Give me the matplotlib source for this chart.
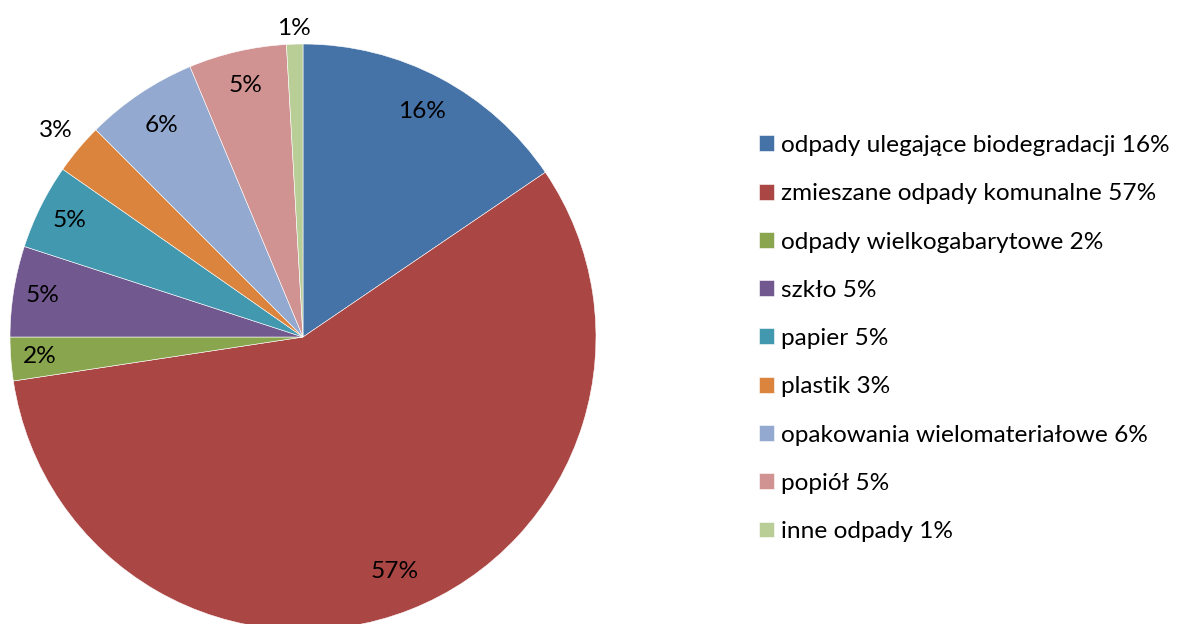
import numpy as np
import matplotlib
matplotlib.use("Agg")
import matplotlib.pyplot as plt

# shares of municipal waste (%)
categories = [
    "odpady ulegające biodegradacji",
    "zmieszane odpady komunalne",
    "odpady wielkogabarytowe",
    "szkło",
    "papier",
    "plastik",
    "opakowania wielomateriałowe",
    "popiół",
    "inne odpady",
]
values = [15.5, 57.1, 2.4, 5.0, 4.7, 2.8, 6.2, 5.4, 0.9]
pct_labels = ["16%", "57%", "2%", "5%", "5%", "3%", "6%", "5%", "1%"]

colors = ["#4572A7", "#AA4643", "#89A54E", "#71588F", "#4198AF",
          "#DB843D", "#93A9CF", "#D19392", "#B9CD96"]
# radial position of each percentage label (fraction of radius)
label_r = [0.87, 0.86, 0.90, 0.90, 0.89, 1.10, 0.87, 0.88, 1.055]

plt.rcParams['font.family'] = ['Lato', 'DejaVu Sans']
FS = 17.6

W, H = 1178, 624
fig = plt.figure(figsize=(W / 100, H / 100), dpi=100)
cx, cy, r = 303, 337, 293
ax = fig.add_axes([(cx - r) / W, (H - cy - r) / H, 2 * r / W, 2 * r / H])

wedges, _ = ax.pie(values, colors=colors, startangle=90, counterclock=False,
                   radius=1, wedgeprops=dict(edgecolor="white", linewidth=0.4))
ax.set_xlim(-1, 1)
ax.set_ylim(-1, 1)
ax.set_aspect("equal")
ax.axis("off")

for w, lab, d in zip(wedges, pct_labels, label_r):
    mid = np.deg2rad((w.theta1 + w.theta2) / 2)
    ax.text(d * np.cos(mid), d * np.sin(mid), lab, ha="center", va="center",
            fontsize=FS, color="black", clip_on=False)

leg_labels = [f"{c} {p}" for c, p in zip(categories, pct_labels)]
fig.legend(wedges, leg_labels, loc="upper left",
           bbox_to_anchor=(759 / W, 1 - 135 / H), frameon=False,
           fontsize=FS, handlelength=0.62, handleheight=0.62,
           handletextpad=0.3, labelspacing=1.115, borderaxespad=0,
           borderpad=0)

fig.savefig("out.png", dpi=100)
